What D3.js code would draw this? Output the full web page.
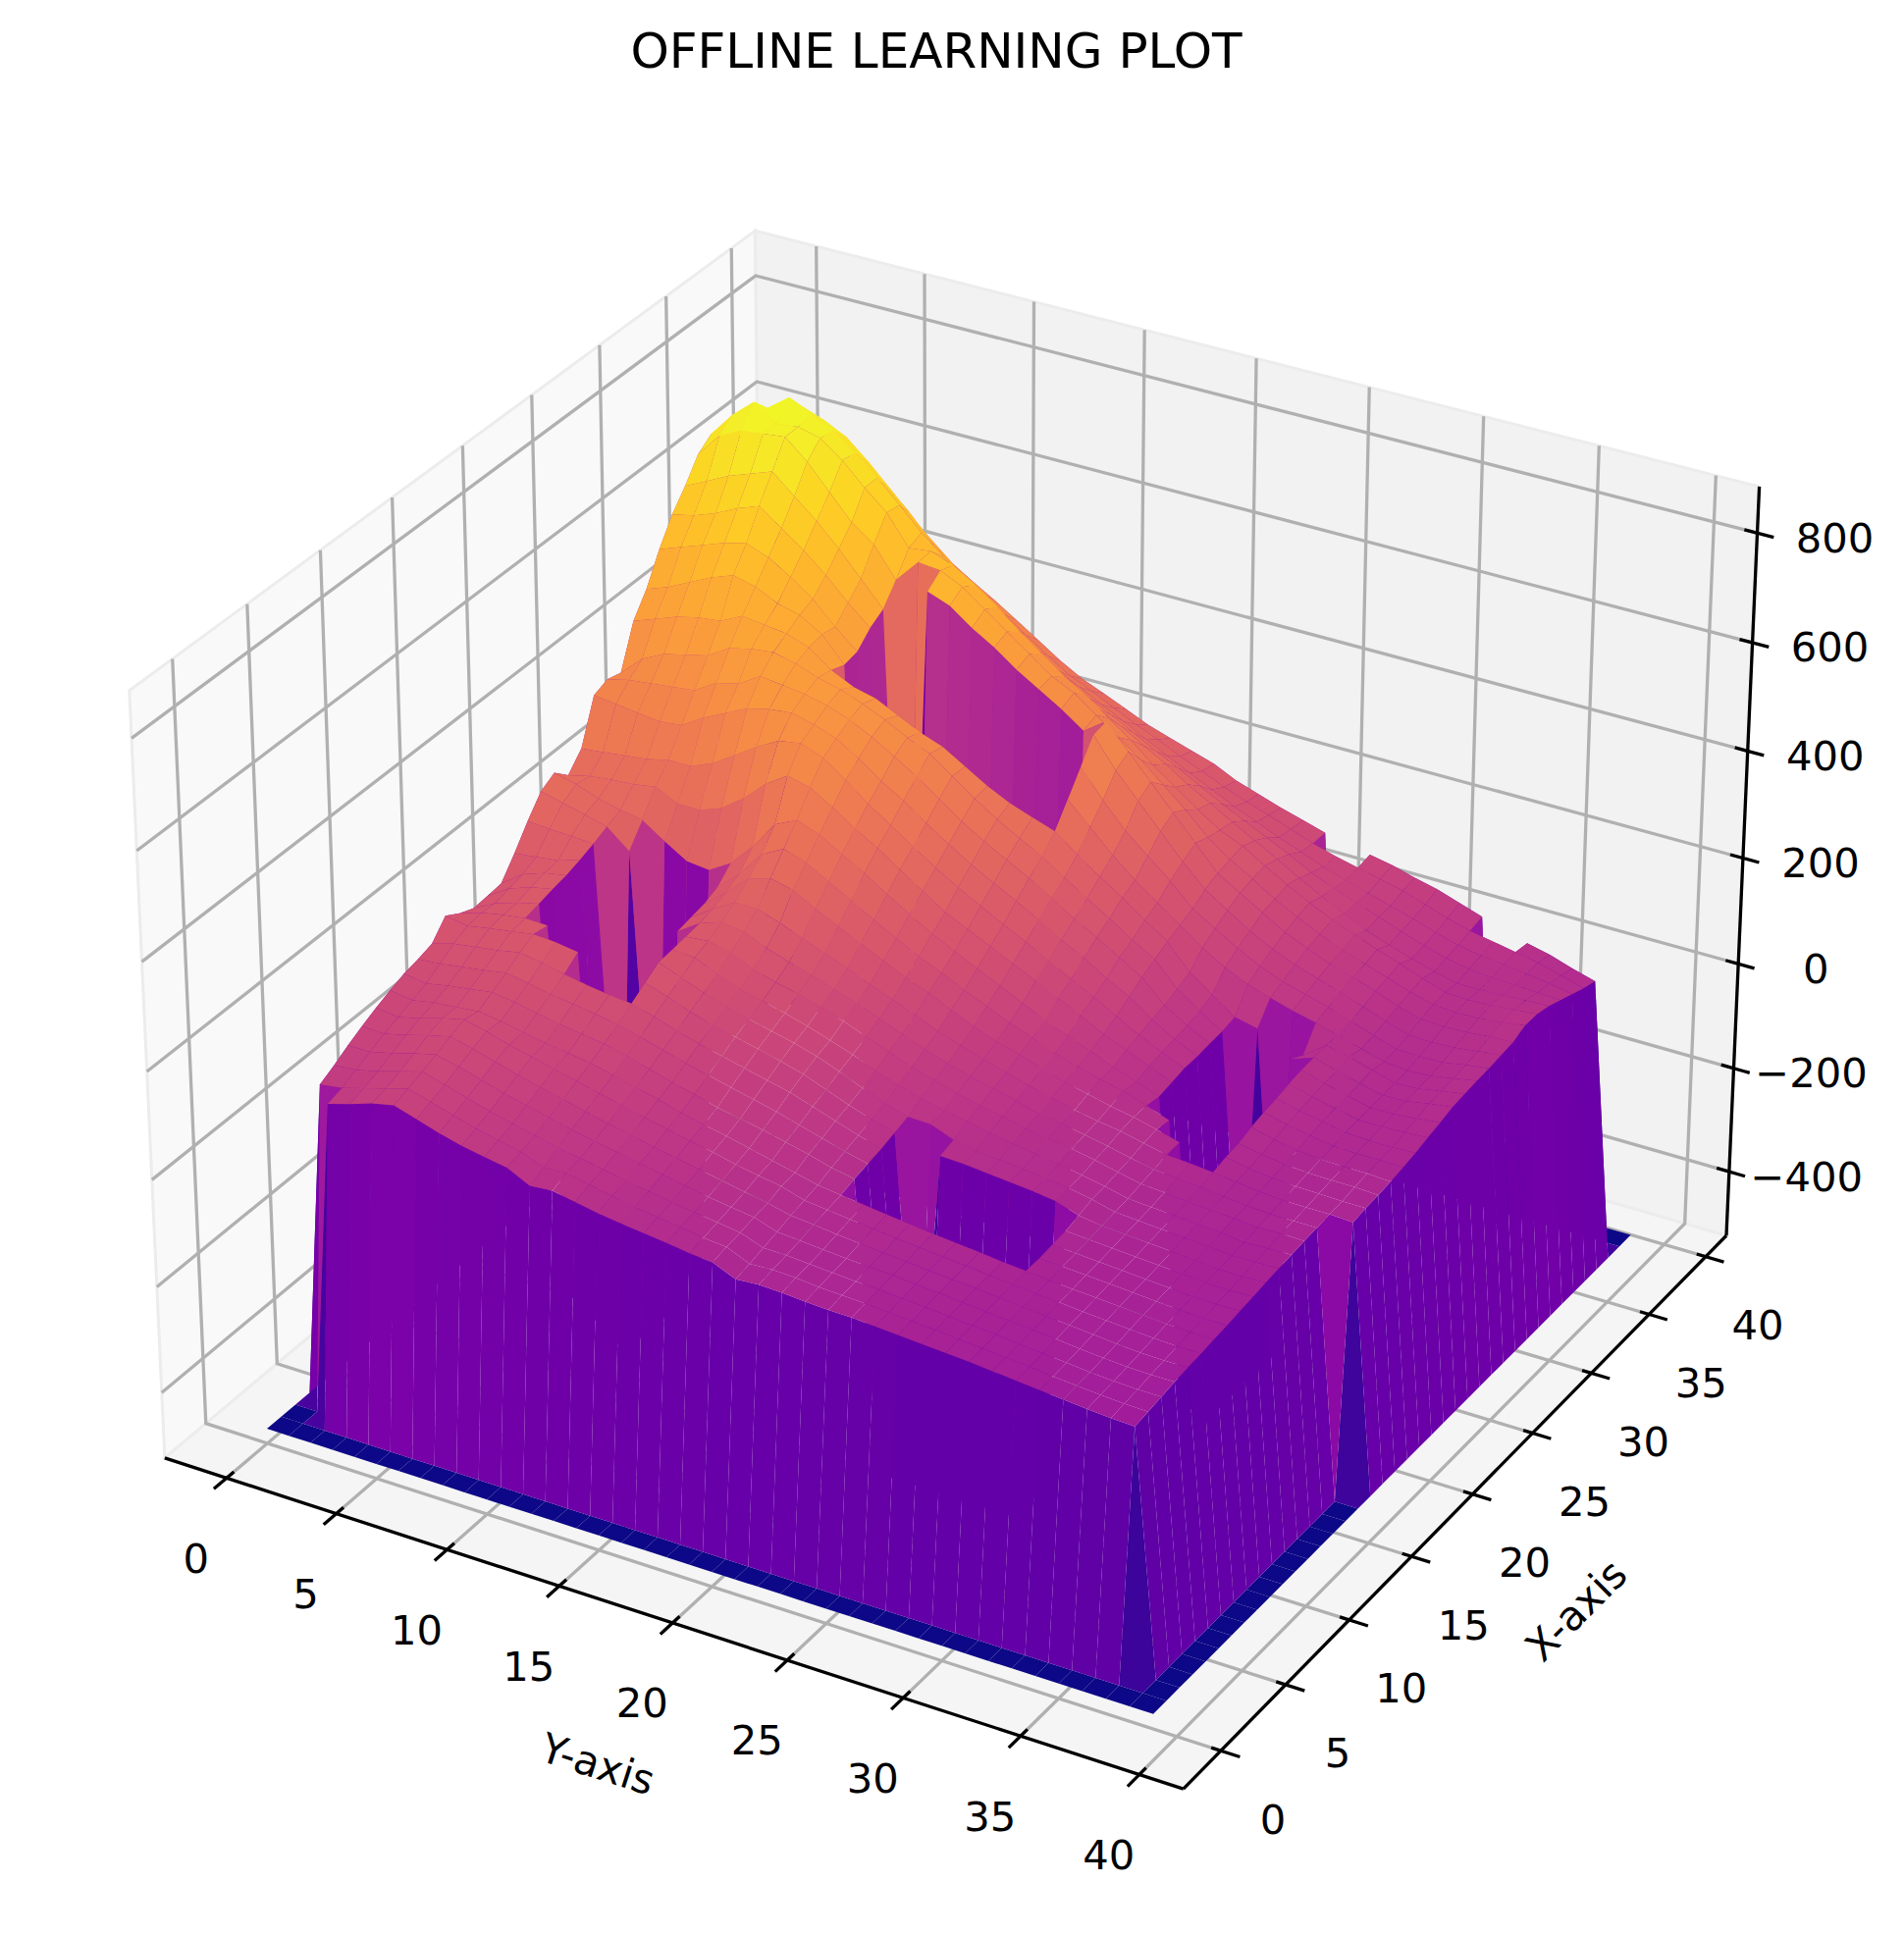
<!DOCTYPE html>
<html lang="en">
<head>
<meta charset="UTF-8">
<title>Offline learning plot</title>
<style>
  body { margin: 0; background: #fff; }
  text { font-family: "DejaVu Sans", sans-serif; fill: #000; }
</style>
</head>
<body>
<script src="https://d3js.org/d3.v7.min.js"></script>
<div id="my_dataviz"></div>
<script>
var F = -497; // floor value, blocked cells

// one row per depth index (label "X-axis"), one column per index along the front edge (label "Y-axis")
var zRows = [
[F,F,F,F,F, F,F,F,F,F, F,F,F,F,F, F,F,F,F,F, F,F,F,F,F, F,F,F,F,F, F,F,F,F,F, F,F,F,F,F],
[F,F,F,F,F, F,F,F,F,F, F,F,F,F,F, F,F,F,F,F, F,F,F,F,F, F,F,F,F,F, F,F,F,F,F, F,F,F,F,F],
[F,F,96,108,122, 131,118,105,94,86, 79,58,62,54,46, 40,35,30,24,20, 2,5,3,0,-2, -3,-6,-9,-12,-15, -18,-22,-26,-30,-34, -38,-41,-43,F,F],
[F,98,104,116,128, 140,128,116,104,95, 86,70,72,64,56, 48,42,37,30,26, 8,10,8,4,2, 0,-3,-6,-9,-13, -16,-20,-24,-28,-32, -35,-38,-39,F,F],
[F,112,116,126,138, 150,138,126,114,104, 95,84,78,70,62, 55,48,42,36,30, 15,14,11,8,5, 3,0,-3,-7,-11, -14,-18,-22,-26,-30, -33,-35,-35,F,F],
[F,128,128,138,150, 160,150,138,126,116, 106,96,88,80,72, 64,56,48,42,36, 22,19,15,12,9, 7,3,0,-4,-8, -11,-15,-19,-23,-27, -30,-31,-31,F,F],
[F,142,140,150,162, 172,162,150,138,128, 118,108,98,90,80, 72,64,56,48,40, 30,26,21,17,13, 10,6,3,-1,-5, -9,-13,-16,-20,-24, -27,-28,-28,F,F],
[F,155,150,160,172, 182,172,160,150,140, 130,120,110,100,91, 82,74,64,56,49, 36,31,26,22,17, 13,9,5,1,-3, -7,-10,-14,-17,-20, -23,-25,-25,F,F],
[F,166,160,168,172, 176,170,162,154,148, 142,132,122,112,100, 90,82,72,62,52, 42,36,31,26,21, 16,12,8,3,-1, -5,-8,-11,-14,-17, -20,-22,-22,F,F],
[F,176,170,178,184, 190,184,176,168,162, 156,146,134,122,112, 100,92,84,74,64, 52,44,F,F,F, F,F,F,F,0, -2,-5,-8,-11,-14, -17,-19,-19,F,F],
[F,182,186,192,198, 205,198,190,184,178, 170,160,148,136,126, 116,106,96,84,72, 60,50,F,F,F, F,F,F,F,3, 0,-3,-6,-9,-12, -15,-16,-15,F,F],
[F,190,202,208,214, 222,215,206,198,192, 188,176,162,150,140, 130,120,110,96,82, 68,56,F,F,F, F,F,F,F,6, 3,0,-3,-6,-9, -12,-13,-12,F,F],
[F,221,214,222,228, 235,232,226,F,F, 205,192,176,164,154, 144,134,122,106,90, 76,64,F,46,44, 40,36,32,26,12, 6,3,0,-3,-7, -10,-10,-8,F,F],
[F,205,218,226,232, 230,F,F,F,F, 222,206,190,176,166, 156,146,134,118,100, 84,72,70,54,46, 42,38,34,28,20, 9,6,3,0,-3, -7,-6,-5,F,F],
[F,194,215,228,238, F,F,F,F,F, 225,222,204,188,178, 168,156,142,128,110, 96,84,74,66,58, 50,44,38,30,22, 12,9,6,3,0, -5,-3,-2,F,F],
[F,196,222,236,245, F,F,F,F,F, 228,232,222,204,192, 182,170,156,140,124, 108,96,84,74,66, 56,50,44,36,26, 17,14,10,7,4, 0,2,1,F,F],
[F,199,228,242,250, F,F,F,F,205, 232,246,240,222,208, 196,182,168,152,136, 120,106,94,84,74, 62,56,48,40,30, 22,18,14,10,6, 3,3,3,F,F],
[F,235,240,245,258, F,F,F,F,210, 238,262,262,248,232, 216,200,182,166,150, 132,118,104,92,80, 70,60,52,46,36, 27,24,20,15,10, 6,6,6,4,F],
[F,275,272,270,268, F,F,F,F,215, 248,285,298,288,265, 245,225,205,186,170, 150,132,116,104,90, 78,68,58,50,40, 28,F,26,18,13, 10,9,8,8,F],
[F,310,300,290,279, 245,F,F,F,225, 262,310,332,318,295, 272,248,226,204,186, 166,148,130,114,98, 85,74,64,50,35, F,F,30,22,16, 13,12,12,10,F],
[F,325,315,300,290, 283,255,230,225,250, 292,345,365,350,325, 302,275,250,225,205, 185,165,145,125,108, 92,75,60,45,F, F,F,38,28,20, 16,15,15,13,F],
[F,300,310,315,318, 325,305,305,320,350, 388,415,405,380,352, 328,300,272,245,225, 205,185,165,145,125, 103,85,68,50,F, F,F,44,34,26, 19,18,18,17,F],
[F,330,335,340,345, 355,355,372,398,425, 448,455,440,410,378, 350,322,295,270,248, 225,205,182,160,138, 115,92,72,55,F, F,F,48,38,30, 22,20,20,22,F],
[F,410,405,400,395, 400,425,445,465,475, 480,470,455,430,400, 375,345,318,292,270, 248,225,200,178,152, 130,100,76,55,F, F,F,54,42,33, 24,24,26,29,F],
[F,420,430,435,440, 445,470,480,505,500, 495,485,470,450,425, 400,370,340,315,292, 270,245,218,195,170, 145,105,80,58,F, F,F,58,46,35, 25,26,30,35,F],
[F,413,450,470,480, 490,515,525,530,520, 505,495,480,462,440, 422,392,362,335,312, 290,262,235,210,182, 158,115,85,60,F, F,45,60,48,36, 27,28,36,42,F],
[F,490,505,520,530, 535,555,550,545,530, 500,480,470,450,430, 415,390,365,345,330, 316,285,255,228,198, 170,125,95,65,56, F,30,62,52,40, 28,30,38,45,F],
[F,530,545,565,585, 600,590,570,560,535, 490,F,F,F,F, F,F,F,F,F, 355,315,275,240,210, 180,150,125,105,92, 80,70,58,46,34, 30,32,40,48,F],
[F,585,600,615,630, 640,625,600,570,530, 495,F,F,F,F, F,F,F,F,F, 395,345,300,265,230, 190,165,140,118,102, 90,78,64,50,36, 35,36,44,50,F],
[F,631,640,655,675, 690,660,630,595,555, 520,F,F,F,F, F,F,F,F,F, 435,380,335,290,245, 205,178,152,130,112, 98,85,70,55,42, 40,42,48,53,F],
[F,665,685,705,720, 735,700,665,625,580, 535,F,590,575,545, 520,490,465,440,411, 440,395,350,305,260, 215,190,165,140,122, 105,92,78,62,50, 48,50,54,56,F],
[F,705,750,770,775, 780,745,700,655,625, 570,614,610,590,560, 530,500,470,450,420, 390,360,325,290,250, 220,196,170,148,128, 110,96,82,68,56, 53,55,60,66,F],
[F,724,770,805,775, 780,770,740,700,665, 610,615,600,575,545, 510,480,450,425,395, 365,330,300,270,243, 225,200,176,154,134, 118,102,88,72,58, 56,58,62,66,F],
[F,700,740,775,805, 785,765,735,700,660, 620,585,550,515,480, 450,425,400,380,360, 335,312,285,262,238, 215,192,168,145,125, 105,90,76,64,54, 54,56,58,60,F],
[F,685,725,750,770, 755,735,700,660,620, 575,545,515,480,445, 415,395,370,350,328, 305,285,262,240,220, 200,180,158,140,125, 110,95,80,68,60, 56,54,52,50,F],
[F,665,705,725,722, 712,685,650,610,570, 530,498,468,438,408, 380,360,338,318,296, 275,255,235,215,198, 180,165,148,135,122, 110,98,84,72,64, 60,54,48,40,F],
[F,650,685,700,685, 665,635,600,560,525, 490,460,432,404,376, 350,332,312,292,275, 255,238,220,204,190, 175,160,148,138,128, 118,104,90,78,70, 62,54,42,30,F],
[F,635,660,655,635, 615,588,555,510,478, 452,428,402,375,348, 325,308,290,272,258, 245,232,212,198,184, 172,160,F,142,134, 122,112,98,84,F, 58,48,34,22,F],
[F,F,F,F,F, F,F,F,F,F, F,F,F,F,F, F,F,F,F,F, F,F,F,F,F, F,F,F,F,F, F,F,F,F,F, F,F,F,F,F],
[F,F,F,F,F, F,F,F,F,F, F,F,F,F,F, F,F,F,F,F, F,F,F,F,F, F,F,F,F,F, F,F,F,F,F, F,F,F,F,F]
];

var groundTicks = [0, 5, 10, 15, 20, 25, 30, 35, 40];
var heightTicks = [-400, -200, 0, 200, 400, 600, 800];
var groundLim = [-2.844, 41.844];
var heightLim = [-525, 884];

var width = 1940, height = 1971;

var svg = d3.select("#my_dataviz")
    .append("svg")
    .attr("width", width)
    .attr("height", height)
    .style("display", "block");

// box coordinates, same proportions as a default 3d axes
var boxXY = 0.5715, boxZ = 0.4285;
var hScale = d3.scaleLinear().domain(groundLim).range([-boxXY, boxXY]);
var dScale = d3.scaleLinear().domain(groundLim).range([-boxXY, boxXY]);
var zScale = d3.scaleLinear().domain(heightLim).range([-boxZ, boxZ]);

// screen scales, from the projected plane to pixels
var sx = d3.scaleLinear().domain([-0.0778, 0.0751]).range([168, 1759]);
var sy = d3.scaleLinear().domain([-0.04741, 0.07279]).range([1485.8, 235.1]);

// camera: elevation 30, azimuth -60, distance 10
var elev = 30 * Math.PI / 180, azim = -60 * Math.PI / 180, dist = 10;
var n = [Math.cos(elev) * Math.cos(azim), Math.cos(elev) * Math.sin(azim), Math.sin(elev)];
var r = [-n[1], n[0], 0];
var rLen = Math.hypot(r[0], r[1]);
r = [r[0] / rLen, r[1] / rLen, 0];
var w = [n[1] * r[2] - n[2] * r[1], n[2] * r[0] - n[0] * r[2], n[0] * r[1] - n[1] * r[0]];

function dot(a, b) { return a[0] * b[0] + a[1] * b[1] + a[2] * b[2]; }

function project(h, d, z) {
    var p = [hScale(h), dScale(d), zScale(z)];
    var depth = dist - dot(p, n);
    return { x: sx(dot(p, r) / depth), y: sy(dot(p, w) / depth), depth: depth };
}

function lineThrough(points) {
    return d3.line().x(function(p) { return p.x; }).y(function(p) { return p.y; })(points);
}

var hLo = groundLim[0], hHi = groundLim[1], dLo = groundLim[0], dHi = groundLim[1];
var zLo = heightLim[0], zHi = heightLim[1];

// panes
var panes = [
    { fill: "#f9f9f9", corners: [[hLo, dLo, zLo], [hLo, dHi, zLo], [hLo, dHi, zHi], [hLo, dLo, zHi]] },
    { fill: "#f2f2f2", corners: [[hLo, dHi, zLo], [hHi, dHi, zLo], [hHi, dHi, zHi], [hLo, dHi, zHi]] },
    { fill: "#f5f5f5", corners: [[hLo, dLo, zLo], [hHi, dLo, zLo], [hHi, dHi, zLo], [hLo, dHi, zLo]] }
];

svg.selectAll("polygon.pane")
    .data(panes)
    .join("polygon")
    .attr("class", "pane")
    .attr("fill", function(d) { return d.fill; })
    .attr("stroke", "#ececec")
    .attr("stroke-width", 3)
    .attr("points", function(d) {
        return d.corners.map(function(c) {
            var p = project(c[0], c[1], c[2]);
            return p.x + "," + p.y;
        }).join(" ");
    });

// grid lines on the three panes
var gridLines = [];
groundTicks.forEach(function(t) {
    gridLines.push([[t, dLo, zLo], [t, dHi, zLo], [t, dHi, zHi]]);
    gridLines.push([[hHi, t, zLo], [hLo, t, zLo], [hLo, t, zHi]]);
});
heightTicks.forEach(function(t) {
    gridLines.push([[hLo, dLo, t], [hLo, dHi, t], [hHi, dHi, t]]);
});

svg.selectAll("path.grid")
    .data(gridLines)
    .join("path")
    .attr("class", "grid")
    .attr("fill", "none")
    .attr("stroke", "#b0b0b0")
    .attr("stroke-width", 3.3)
    .attr("d", function(d) {
        return lineThrough(d.map(function(c) { return project(c[0], c[1], c[2]); }));
    });

// axis lines
var axisLines = [
    [[hLo, dLo, zLo], [hHi, dLo, zLo]],
    [[hHi, dLo, zLo], [hHi, dHi, zLo]],
    [[hHi, dHi, zLo], [hHi, dHi, zHi]]
];

svg.selectAll("path.axis")
    .data(axisLines)
    .join("path")
    .attr("class", "axis")
    .attr("fill", "none")
    .attr("stroke", "#000")
    .attr("stroke-width", 3.3)
    .attr("d", function(d) {
        return lineThrough(d.map(function(c) { return project(c[0], c[1], c[2]); }));
    });

// tick marks
var tickMarks = [];
groundTicks.forEach(function(t) {
    tickMarks.push([[t, dLo - 0.88, zLo], [t, dLo + 0.51, zLo]]);
    tickMarks.push([[hHi + 0.8, t, zLo], [hHi - 0.4, t, zLo]]);
});
heightTicks.forEach(function(t) {
    tickMarks.push([[hHi + 0.7, dHi, t], [hHi - 0.55, dHi, t]]);
});

svg.selectAll("path.tick")
    .data(tickMarks)
    .join("path")
    .attr("class", "tick")
    .attr("fill", "none")
    .attr("stroke", "#000")
    .attr("stroke-width", 3.3)
    .attr("d", function(d) {
        return lineThrough(d.map(function(c) { return project(c[0], c[1], c[2]); }));
    });

// surface cells, far ones first
var vmin = d3.min(zRows, function(row) { return d3.min(row); });
var vmax = d3.max(zRows, function(row) { return d3.max(row); });
var color = d3.scaleSequential(d3.interpolatePlasma).domain([vmin, vmax]);

var cells = [];
for (var i = 0; i < zRows.length - 1; i++) {
    for (var j = 0; j < zRows[i].length - 1; j++) {
        var pts = [
            project(j, i, zRows[i][j]),
            project(j + 1, i, zRows[i][j + 1]),
            project(j + 1, i + 1, zRows[i + 1][j + 1]),
            project(j, i + 1, zRows[i + 1][j])
        ];
        cells.push({
            pts: pts,
            depth: d3.mean(pts, function(p) { return p.depth; }),
            z: d3.mean([zRows[i][j], zRows[i][j + 1], zRows[i + 1][j + 1], zRows[i + 1][j]])
        });
    }
}
cells.sort(function(a, b) { return b.depth - a.depth; });

svg.append("g")
    .selectAll("polygon")
    .data(cells)
    .join("polygon")
    .attr("fill", function(d) { return color(d.z); })
    .attr("points", function(d) {
        return d.pts.map(function(p) { return p.x + "," + p.y; }).join(" ");
    });

// tick labels
var fontSize = 41.7;

svg.selectAll("text.groundFront")
    .data(groundTicks)
    .join("text")
    .attr("class", "groundFront")
    .attr("font-size", fontSize)
    .attr("text-anchor", "middle")
    .attr("dominant-baseline", "central")
    .attr("x", function(t) { return project(t, dLo, zLo).x - 31; })
    .attr("y", function(t) { return project(t, dLo, zLo).y + 82; })
    .text(function(t) { return t; });

svg.selectAll("text.groundSide")
    .data(groundTicks)
    .join("text")
    .attr("class", "groundSide")
    .attr("font-size", fontSize)
    .attr("text-anchor", "middle")
    .attr("dominant-baseline", "central")
    .attr("x", function(t) { return project(hHi, t, zLo).x + 53; })
    .attr("y", function(t) { return project(hHi, t, zLo).y + 70; })
    .text(function(t) { return t; });

svg.selectAll("text.height")
    .data(heightTicks)
    .join("text")
    .attr("class", "height")
    .attr("font-size", fontSize)
    .attr("text-anchor", "middle")
    .attr("dominant-baseline", "central")
    .attr("x", function(t) { return project(hHi, dHi, t).x + 79; })
    .attr("y", function(t) { return project(hHi, dHi, t).y + 5; })
    .text(function(t) { return String(t).replace("-", "\u2212"); });

// axis titles
svg.append("text")
    .attr("font-size", fontSize)
    .attr("text-anchor", "middle")
    .attr("dominant-baseline", "central")
    .attr("transform", "translate(609,1798) rotate(17.8)")
    .text("Y-axis");

svg.append("text")
    .attr("font-size", fontSize)
    .attr("text-anchor", "middle")
    .attr("dominant-baseline", "central")
    .attr("transform", "translate(1606,1641) rotate(-45)")
    .text("X-axis");

svg.append("text")
    .attr("font-size", 50)
    .attr("text-anchor", "middle")
    .attr("x", 954)
    .attr("y", 69)
    .text("OFFLINE LEARNING PLOT");
</script>
</body>
</html>
